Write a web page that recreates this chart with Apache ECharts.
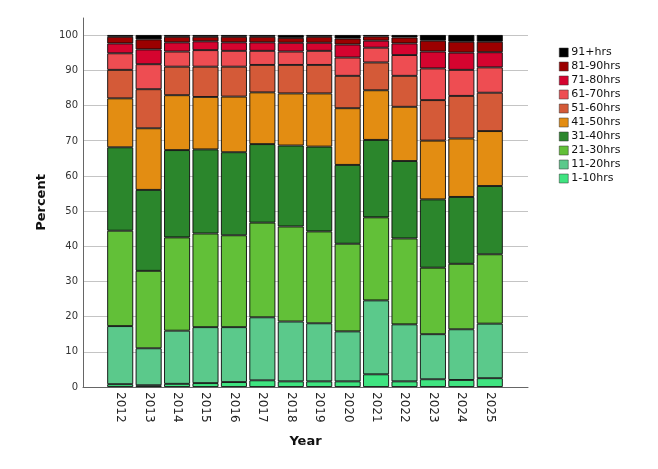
<!DOCTYPE html>
<html>
<head>
<meta charset="UTF-8">
<title>Hours</title>
<script src="https://cdn.jsdelivr.net/npm/echarts@6/dist/echarts.min.js"></script>
<style>
  html, body { margin: 0; padding: 0; background: #fff; }
  #main { width: 658px; height: 469px; }
</style>
</head>
<body>
<div id="main"></div>
<script>
var years = ['2012', '2013', '2014', '2015', '2016', '2017', '2018', '2019', '2020', '2021', '2022', '2023', '2024', '2025'];
var groups = ['1-10hrs', '11-20hrs', '21-30hrs', '31-40hrs', '41-50hrs', '51-60hrs', '61-70hrs', '71-80hrs', '81-90hrs', '91+hrs'];
var yTicks = [0, 10, 20, 30, 40, 50, 60, 70, 80, 90, 100];

// percent of each group per year
var h1_10   = [0.8, 0.5, 0.9, 1.1, 1.4, 1.9, 1.6, 1.6, 1.6, 3.6, 1.6, 2.2, 2.0, 2.5];
var h11_20  = [16.5, 10.5, 15.1, 15.9, 15.6, 17.9, 17.0, 16.5, 14.2, 21.0, 16.2, 12.8, 14.4, 15.5];
var h21_30  = [27.1, 22.0, 26.5, 26.6, 26.1, 26.9, 27.0, 26.1, 24.9, 23.6, 24.4, 18.9, 18.6, 19.7];
var h31_40  = [23.7, 23.0, 24.8, 23.9, 23.6, 22.3, 23.0, 24.1, 22.4, 22.0, 22.0, 19.4, 19.0, 19.4];
var h41_50  = [13.9, 17.5, 15.6, 14.9, 15.8, 14.7, 14.8, 15.1, 16.1, 14.1, 15.4, 16.7, 16.6, 15.6];
var h51_60  = [8.1, 11.1, 8.1, 8.6, 8.5, 7.8, 8.1, 8.1, 9.2, 7.9, 8.8, 11.5, 12.1, 10.9];
var h61_70  = [4.7, 7.1, 4.3, 4.7, 4.5, 4.0, 3.8, 4.0, 5.2, 4.2, 5.9, 9.0, 7.4, 7.2];
var h71_80  = [2.8, 4.2, 2.6, 2.5, 2.4, 2.4, 2.5, 2.3, 3.7, 2.0, 3.3, 4.8, 4.9, 4.3];
var h81_90  = [1.9, 2.85, 1.6, 1.3, 1.6, 1.6, 1.4, 1.7, 1.7, 1.2, 1.7, 3.1, 3.1, 3.0];
var h91plus = [0.5, 1.25, 0.5, 0.5, 0.5, 0.5, 0.8, 0.5, 1.0, 0.4, 0.7, 1.6, 1.9, 1.9];

var values = [h1_10, h11_20, h21_30, h31_40, h41_50, h51_60, h61_70, h71_80, h81_90, h91plus];
var colors = ['#3fe480', '#5bc98b', '#62c038', '#2b862c', '#e38d12', '#d45a38', '#ee4d52', '#d5042f', '#9b0000', '#000000'];

var font = 'DejaVu Sans';
var myChart = echarts.init(document.getElementById('main'));

var series = groups.map(function (g, i) {
    return {
        name: g,
        type: 'bar',
        stack: 'all',
        xAxisIndex: 1,
        yAxisIndex: 1,
        barWidth: 26,
        itemStyle: { color: colors[i], borderColor: '#0a0a0a', borderWidth: 0.9 },
        data: values[i]
    };
});

var option = {
    animation: false,
    backgroundColor: '#fff',
    textStyle: { fontFamily: font },
    legend: {
        orient: 'vertical',
        left: 554,
        top: 42,
        itemWidth: 9,
        itemHeight: 9,
        itemGap: 3,
        icon: 'rect',
        data: groups.slice().reverse(),
        textStyle: { fontFamily: font, fontSize: 11, color: '#111', padding: [0, 0, 0, -2] },
        itemStyle: { borderColor: '#333', borderWidth: 0.5 }
    },
    grid: [
        // frame: axis lines and titles
        { left: 83, right: 130, top: 18, bottom: 82 },
        // bars
        { left: 106, right: 154, top: 35, bottom: 82 },
        // grid lines
        { left: 83, right: 130, top: 35, bottom: 82 }
    ],
    xAxis: [
        {
            gridIndex: 0, type: 'value', min: 0, max: 1,
            axisLine: { show: true, lineStyle: { color: '#666', width: 1 } },
            axisTick: { show: false }, axisLabel: { show: false }, splitLine: { show: false },
            name: 'Year', nameLocation: 'middle', nameGap: 48,
            nameTextStyle: { fontFamily: font, fontSize: 13, fontWeight: 'bold', color: '#111' }
        },
        {
            gridIndex: 1, type: 'category', data: years,
            axisLine: { show: false }, axisTick: { show: false },
            axisLabel: { rotate: -90, margin: 5, fontSize: 12, color: '#222', fontFamily: font }
        },
        {
            gridIndex: 2, type: 'value', min: 0, max: 1, show: false
        }
    ],
    yAxis: [
        {
            gridIndex: 0, type: 'value', min: 0, max: 105, interval: 10,
            axisLine: { show: true, lineStyle: { color: '#666', width: 1 } },
            axisTick: { show: false },
            splitLine: { show: false },
            axisLabel: {
                fontSize: 10, color: '#333', margin: 5, fontFamily: font,
                formatter: function (v) { return yTicks.indexOf(v) >= 0 ? String(v) : ''; }
            },
            name: 'Percent', nameLocation: 'middle', nameGap: 32, nameRotate: 90,
            nameTextStyle: { fontFamily: font, fontSize: 13, fontWeight: 'bold', color: '#111' }
        },
        {
            gridIndex: 1, type: 'value', min: 0, max: 100, show: false
        },
        {
            gridIndex: 2, type: 'value', min: 0, max: 100, interval: 10,
            axisLine: { show: false }, axisTick: { show: false }, axisLabel: { show: false },
            splitLine: { show: true, lineStyle: { color: '#c4c4c4', width: 1 } }
        }
    ],
    series: series
};

myChart.setOption(option);
</script>
</body>
</html>
